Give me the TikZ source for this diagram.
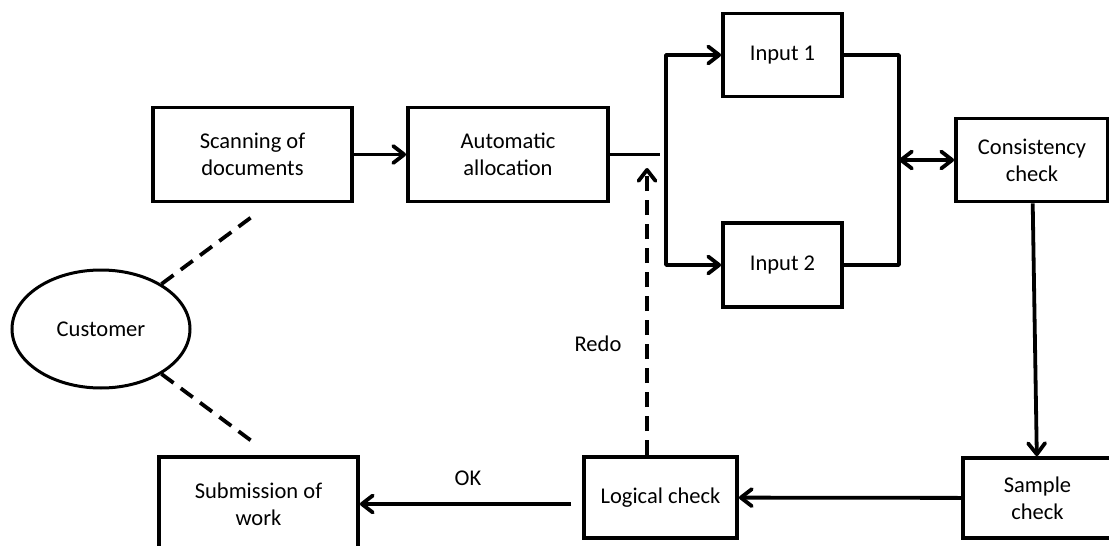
\documentclass[tikz,border=0pt]{standalone}
\usepackage{fontspec}
\setmainfont{Carlito}
\usetikzlibrary{arrows.meta,shapes.geometric}
\begin{document}
\begin{tikzpicture}[x=1pt,y=-1pt,
  txt/.style={font=\fontsize{22.5}{27}\selectfont},
  box/.style={draw, line width=3.8pt, align=center, inner sep=0pt, txt},
  lbl/.style={txt, inner sep=0pt},
  conn/.style={line width=3.8pt, line join=round},
  tip/.style={},
  arr/.style={conn, -{Straight Barb[length=11pt,width=17pt,round]}},
  arrtwo/.style={conn, {Straight Barb[length=11pt,width=17pt,round]}-{Straight Barb[length=11pt,width=17pt,round]}},
  dsh/.style={line width=3.8pt, dash pattern=on 15pt off 9pt}
]
\useasboundingbox (0,0) rectangle (1109,546);
\fill[white] (0,0) rectangle (1109,546);

\node[box, minimum width=199pt, minimum height=94pt] (scan) at (252.5,154.5) {Scanning of\\documents};
\node[box, minimum width=200pt, minimum height=94pt] (auto) at (508,154.5) {Automatic\\allocation};
\node[box, minimum width=119pt, minimum height=83pt] (in1) at (782.5,55) {Input 1};
\node[box, minimum width=119pt, minimum height=84pt] (in2) at (782.5,265) {Input 2};
\node[box, minimum width=152pt, minimum height=83pt] (cons) at (1032,160) {Consistency\\check};
\node[box, minimum width=149pt, minimum height=80pt] (samp) at (1037.5,498) {Sample\\check};
\node[box, minimum width=153pt, minimum height=81pt] (log) at (660.5,497.5) {Logical check};
\node[box, minimum width=199pt, minimum height=94pt] (sub) at (258.5,504) {Submission of\\work};
\node[draw, ellipse, line width=3pt, minimum width=178pt, minimum height=118pt, inner sep=0pt, txt] (cust) at (101,329) {Customer};

\node[lbl] (redo) at (598,344) {Redo};
\node[lbl] (ok) at (468,478) {OK};

\coordinate (ja) at (666,55);
\coordinate (jb) at (666,265);
\coordinate (jm) at (666,154.5);
\coordinate (jc) at (660,154.5);
\coordinate (r1) at (899,55);
\coordinate (r2) at (899,265);
\coordinate (k) at (899,160);
\coordinate (rt) at (647,168);
\coordinate (u) at (257,213);
\coordinate (l) at (257,445);

\draw[arr] (scan) -- (auto);
\draw[conn] (auto) -- (jc);
\draw[arr] (jm) -- (ja) -- (in1);
\draw[arr] (jm) -- (jb) -- (in2);
\draw[conn] (in1) -- (r1) -- (r2) -- (in2);
\draw[arrtwo] (k) -- (cons);
\draw[arr] (cons) -- (samp);
\draw[arr] (samp) -- (log);
\draw[arr, shorten <=11pt] (log.west |- sub.east) -- (sub.east);
\draw[dsh, arr] (log.north -| rt) -- (rt);
\draw[dsh] (cust) -- (u);
\draw[dsh] (cust) -- (l);
\end{tikzpicture}
\end{document}
